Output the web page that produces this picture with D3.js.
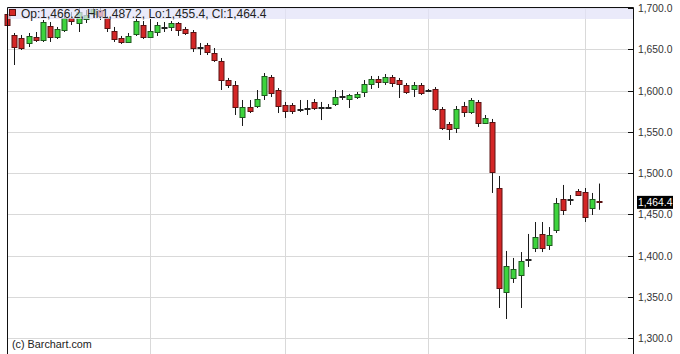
<!DOCTYPE html>
<html><head><meta charset="utf-8">
<script src="https://cdn.jsdelivr.net/npm/d3@7"></script>
<style>
html,body{margin:0;padding:0;background:#fff;}
svg{display:block;}
text{font-family:"Liberation Sans",Arial,sans-serif;}
</style></head>
<body>
<svg id="chart" width="680" height="354"></svg>
<script>
const opens  = [1692.7,1667.3,1663.6,1657.6,1664.8,1661.2,1678.2,1664.8,1673.3,1687.9,1681.8,1686.7,1692.7,1697.6,1687.9,1672.1,1663.6,1658.8,1668.5,1679.4,1664.8,1670.9,1677.0,1677.0,1681.8,1674.5,1670.9,1651.5,1655.2,1645.5,1635.8,1612.7,1606.7,1567.9,1580.0,1581.2,1594.5,1616.4,1600.6,1582.4,1582.4,1577.6,1578.8,1586.1,1580.0,1580.0,1583.6,1593.3,1589.7,1592.1,1598.2,1607.9,1614.0,1610.3,1616.4,1612.7,1606.7,1601.8,1606.7,1600.0,1601.8,1577.6,1559.4,1554.5,1581.2,1573.9,1586.1,1560.6,1561.8,1481.8,1355.8,1372.7,1376.4,1395.2,1409.1,1426.1,1412.7,1430.9,1468.5,1467.3,1478.2,1477.0,1457.6,1466.2];
const highs  = [1697.6,1669.7,1667.3,1669.7,1670.9,1685.5,1683.0,1677.0,1691.5,1695.2,1700.0,1697.6,1701.0,1700.0,1690.3,1677.0,1666.1,1669.7,1686.7,1684.2,1686.7,1683.0,1683.0,1684.2,1683.0,1677.0,1673.3,1657.6,1657.6,1651.5,1639.4,1615.2,1611.5,1588.5,1588.5,1600.6,1621.2,1618.8,1603.0,1586.1,1584.8,1588.5,1588.5,1589.7,1586.1,1583.6,1600.6,1600.6,1595.8,1598.2,1612.7,1617.6,1617.6,1620.0,1618.8,1615.2,1609.1,1610.3,1609.1,1601.8,1604.2,1580.0,1561.8,1581.2,1586.1,1590.9,1588.5,1570.3,1565.5,1496.4,1405.5,1397.0,1404.2,1426.1,1440.6,1440.6,1434.5,1469.7,1485.5,1473.3,1480.6,1481.8,1475.8,1487.2];
const lows   = [1664.8,1630.9,1649.1,1652.7,1658.8,1658.8,1658.8,1662.4,1670.9,1679.4,1670.9,1681.8,1687.9,1685.5,1670.9,1658.8,1656.4,1657.6,1666.1,1662.4,1664.0,1666.1,1670.9,1672.1,1666.1,1667.3,1646.7,1643.0,1643.0,1634.6,1600.6,1603.0,1570.3,1557.0,1572.7,1578.8,1588.5,1592.1,1572.7,1566.7,1571.5,1573.9,1570.3,1576.4,1564.2,1577.6,1581.2,1588.5,1578.8,1589.7,1592.1,1601.8,1603.0,1606.7,1604.2,1590.9,1595.8,1592.1,1594.5,1598.2,1575.2,1552.1,1540.0,1548.5,1567.9,1571.5,1555.8,1559.4,1475.8,1336.4,1323.0,1366.7,1336.4,1386.1,1404.2,1404.2,1406.7,1427.3,1449.1,1461.2,1472.1,1440.6,1449.1,1455.4];
const closes = [1679.4,1652.7,1651.5,1666.1,1661.2,1683.0,1664.8,1674.5,1687.9,1684.3,1695.2,1691.5,1698.8,1690.3,1675.8,1662.4,1658.8,1666.1,1684.2,1664.8,1672.1,1679.4,1677.3,1681.8,1673.3,1669.7,1651.5,1652.3,1646.7,1637.0,1612.7,1606.7,1580.0,1580.0,1575.2,1589.7,1617.6,1597.0,1581.2,1575.2,1575.2,1577.0,1578.2,1578.8,1579.4,1580.6,1592.1,1592.7,1594.5,1595.8,1607.9,1614.0,1610.3,1616.4,1609.1,1607.9,1598.2,1606.7,1597.0,1600.8,1577.6,1554.5,1553.3,1577.6,1573.9,1588.5,1560.6,1566.7,1501.2,1360.6,1387.3,1383.6,1393.3,1396.0,1422.4,1409.1,1424.8,1463.6,1455.2,1467.9,1473.3,1446.7,1468.5,1464.4];
const priceTicks = [1300,1350,1400,1450,1500,1550,1600,1650,1700];
const monthStarts = [20,39,59,81];
const headerText = "Op:1,466.2, Hi:1,487.2, Lo:1,455.4, Cl:1,464.4";
const lastLabel = "1,464.4";
const creditText = "(c) Barchart.com";

const svg = d3.select("#chart");
const L = 7, R = 633, T = 7, B = 354;
const n = closes.length;
const x = d3.scaleLinear().domain([0, n - 1]).range([7.2, 599]);
const y = d3.scaleLinear().domain([1300, 1700]).range([338, 8]);
const fmt = d3.format(",.1f");

// grid
svg.append("g").selectAll("line").data(priceTicks).join("line")
  .attr("x1", L).attr("x2", R)
  .attr("y1", d => Math.round(y(d)) + 0.5).attr("y2", d => Math.round(y(d)) + 0.5)
  .attr("stroke", "#d9d9d9").attr("stroke-width", 1);
svg.append("g").selectAll("line").data(monthStarts).join("line")
  .attr("x1", d => Math.round(x(d)) + 0.5).attr("x2", d => Math.round(x(d)) + 0.5)
  .attr("y1", T).attr("y2", B)
  .attr("stroke", "#d9d9d9").attr("stroke-width", 1);

// candles
const data = d3.range(n).map(i => ({i, o: opens[i], h: highs[i], l: lows[i], c: closes[i]}));
const g = svg.append("g");
const bw = 5;
g.selectAll("line.wick").data(data).join("line").attr("class", "wick")
  .attr("x1", d => Math.round(x(d.i)) + 0.5).attr("x2", d => Math.round(x(d.i)) + 0.5)
  .attr("y1", d => y(d.h)).attr("y2", d => y(d.l))
  .attr("stroke", "#1a1a1a").attr("stroke-width", 1);
g.selectAll("rect.body").data(data).join("rect").attr("class", "body")
  .attr("x", d => Math.round(x(d.i)) - bw / 2 + 0.5)
  .attr("width", bw)
  .attr("y", d => Math.round(y(Math.max(d.o, d.c))) + 0.5)
  .attr("height", d => Math.max(1, Math.round(Math.abs(y(d.o) - y(d.c)))))
  .attr("fill", d => d.c >= d.o ? "#3dd43d" : "#d42626")
  .attr("stroke", d => Math.abs(d.c - d.o) < 1.5 ? "#222" : (d.c >= d.o ? "#1f5a1f" : "#5a1212"))
  .attr("stroke-width", 1);

// header band (semi transparent, overlays candles)
svg.append("rect").attr("x", L).attr("y", T).attr("width", R - L).attr("height", 12)
  .attr("fill", "#e2e2f8").attr("opacity", 0.72);
svg.append("rect").attr("x", 9.5).attr("y", 9.5).attr("width", 6).attr("height", 6)
  .attr("fill", "#d42626").attr("stroke", "#5a1212");
svg.append("text").attr("x", 21).attr("y", 17.5)
  .attr("font-size", 12).attr("fill", "#222").text(headerText);

// frame
svg.append("path")
  .attr("d", `M${L + 0.5},${B}V${T + 0.5}H${R + 0.5}V${B}`)
  .attr("fill", "none").attr("stroke", "#111").attr("stroke-width", 1);

// right axis
const ax = svg.append("g");
ax.selectAll("line").data(priceTicks).join("line")
  .attr("x1", R - 5).attr("x2", R)
  .attr("y1", d => Math.round(y(d)) + 0.5).attr("y2", d => Math.round(y(d)) + 0.5)
  .attr("stroke", "#111");
ax.selectAll("text").data(priceTicks).join("text")
  .attr("x", R + 5).attr("y", d => y(d) + 4)
  .attr("font-size", 10.3).attr("fill", "#333")
  .text(d => fmt(d));

// last price label
const lastY = y(closes[n - 1]);
svg.append("rect").attr("x", R + 4).attr("y", lastY - 6.5).attr("width", 36).attr("height", 13)
  .attr("fill", "#000");
svg.append("text").attr("x", R + 5).attr("y", lastY + 4)
  .attr("font-size", 10.3).attr("fill", "#fff").text(lastLabel);

// credit
svg.append("text").attr("x", 12).attr("y", 348)
  .attr("font-size", 10.8).attr("fill", "#222").text(creditText);
</script>
</body></html>
